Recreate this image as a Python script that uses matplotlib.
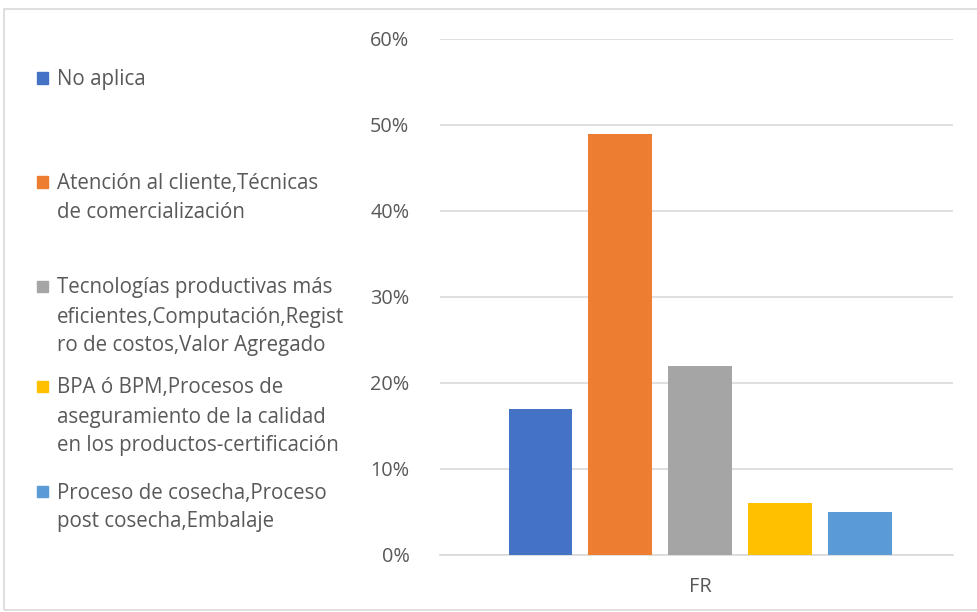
import matplotlib

matplotlib.use("Agg")
import matplotlib.pyplot as plt
from matplotlib.patches import Rectangle
from matplotlib.ticker import PercentFormatter

# series of the single category "FR"
category = "FR"
series_labels = [
    "No aplica",
    "Atención al cliente,Técnicas\nde comercialización",
    "Tecnologías productivas más\neficientes,Computación,Regist\nro de costos,Valor Agregado",
    "BPA ó BPM,Procesos de\naseguramiento de la calidad\nen los productos-certificación",
    "Proceso de cosecha,Proceso\npost cosecha,Embalaje",
]
series_values = [0.17, 0.49, 0.22, 0.06, 0.05]
series_colors = ["#4472C4", "#ED7D31", "#A5A5A5", "#FFC000", "#5B9BD5"]
y_ticks = [0.0, 0.1, 0.2, 0.3, 0.4, 0.5, 0.6]

FONT = "Open Sans"
TEXT_COLOR = "#595959"
GRID_COLOR = "#D9D9D9"

fig = plt.figure(figsize=(9.77, 6.12), dpi=100)
W, H = 977, 612
ax = fig.add_axes([440 / W, 1 - 555 / H, (953 - 440) / W, (555 - 39) / H])

# chart frame
fig.patches.append(Rectangle((4 / W, 2 / H), 1.2, 1 - 11 / H, transform=fig.transFigure,
                             fill=False, edgecolor=GRID_COLOR, linewidth=1.2))

positions = [i for i in range(len(series_values))]
ax.bar(positions, series_values, width=0.8, color=series_colors, zorder=3)

ax.set_ylim(0, 0.6)
ax.set_xlim(-1.26, 5.17)
ax.set_yticks(y_ticks)
ax.yaxis.set_major_formatter(PercentFormatter(1.0, decimals=0))
ax.grid(axis="y", color=GRID_COLOR, linewidth=1.2, zorder=0)
ax.set_xticks([2])
ax.set_xticklabels([category])
ax.tick_params(length=0, labelcolor=TEXT_COLOR, labelsize=14.3, labelfontfamily=FONT)
ax.tick_params(axis="y", pad=22)
ax.tick_params(axis="x", pad=16)
for side in ["top", "right", "left"]:
    ax.spines[side].set_visible(False)
ax.spines["bottom"].set_color(GRID_COLOR)
ax.spines["bottom"].set_linewidth(1.2)

# legend on the left, drawn by hand to follow the Excel layout
entry_tops = [78, 182, 286, 386, 491]
line_step = 29
for label, color, top in zip(series_labels, series_colors, entry_tops):
    fig.patches.append(Rectangle((37 / W, 1 - (top + 5.5) / H), 11 / W, 11 / H,
                                 transform=fig.transFigure, color=color))
    for k, line in enumerate(label.split("\n")):
        fig.text(57 / W, 1 - (top + 2 + k * line_step) / H, line, ha="left", va="center",
                 fontsize=14.8, family=FONT, color=TEXT_COLOR)

fig.savefig("out.png", dpi=100, facecolor="white")
